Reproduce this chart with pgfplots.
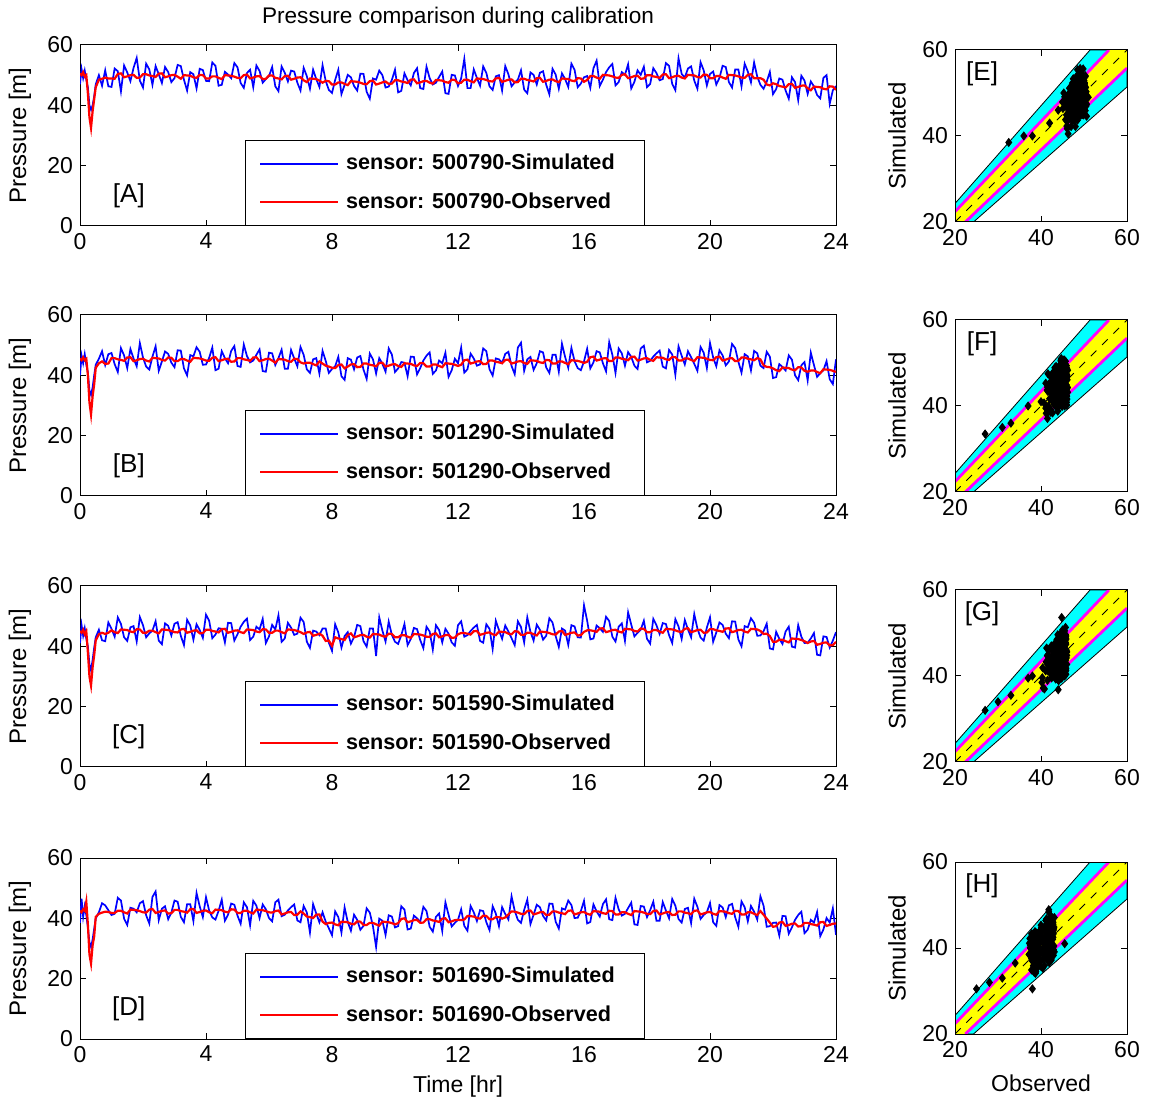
\documentclass[border=0pt]{standalone}
\usepackage{fontspec}
\setmainfont{Liberation Sans}
\usepackage{pgfplots}
\usepackage{pgfplotstable}
\pgfplotsset{compat=1.18}

\definecolor{mcyan}{rgb}{0,1,1}
\definecolor{myellow}{rgb}{1,1,0}
\definecolor{mmagenta}{rgb}{1,0,1}

% time [hr], simulated / observed pressure [m] for the four sensors
\pgfplotstableread{
t sA oA sB oB sC oC sD oD
0 47.0 50.5 40.0 45.5 41.0 45.0 38.5 42.5
0.05 52.0 50.0 46.5 45.0 47.0 44.5 46.5 42.0
0.1 49.0 51.0 44.0 46.0 43.5 45.5 40.5 43.0
0.15 51.5 49.5 47.0 45.0 46.0 44.0 44.0 42.5
0.2 48.5 50.0 43.5 45.5 42.5 45.0 41.0 45.5
0.25 46.0 44.0 41.0 40.0 40.0 38.0 37.0 38.0
0.3 40.0 36.0 35.0 31.0 34.0 30.0 32.0 28.0
0.35 38.5 32.5 33.5 27.0 32.0 27.0 30.5 25.0
0.4 40.0 38.0 36.0 33.0 35.5 33.0 33.0 31.0
0.45 43.0 42.0 40.0 37.0 39.5 37.0 36.5 34.0
0.5 47.0 46.0 43.5 42.5 43.0 42.0 40.0 40.5
0.6 50.0 48.5 45.5 44.0 45.5 44.0 42.0 41.5
0.7 46.5 48.8 48.0 44.6 42.0 44.5 45.0 41.9
0.8 51.6 49.2 43.4 43.8 41.7 44.1 44.3 42.2
0.9 46.3 48.9 47.0 43.9 47.9 44.5 42.7 42.1
1.0 46.1 48.9 47.4 45.7 45.8 45.3 41.1 41.8
1.1 52.2 48.8 43.7 45.7 43.2 44.7 41.5 41.8
1.2 51.3 50.4 41.1 45.3 49.6 44.4 46.8 42.5
1.3 44.6 50.6 49.0 45.1 47.4 45.6 45.9 42.5
1.4 53.2 49.3 46.6 44.8 43.0 45.5 39.9 42.0
1.5 50.9 49.6 42.4 45.9 41.8 45.4 37.8 41.6
1.6 48.0 50.0 48.7 46.0 46.3 44.9 43.5 42.9
1.7 52.4 50.1 45.6 44.7 46.7 44.7 43.2 42.8
1.8 55.7 49.1 43.0 45.0 41.6 45.7 42.0 42.7
1.9 48.2 49.2 50.7 45.4 49.7 45.6 45.0 42.4
2.0 45.9 50.3 45.9 45.5 47.0 44.5 45.7 42.0
2.1 53.8 50.3 42.9 44.9 43.0 44.5 41.0 41.9
2.2 51.9 49.9 41.9 44.6 44.3 45.2 38.3 42.9
2.3 46.8 49.7 46.2 45.8 45.2 45.2 47.1 43.1
2.4 53.0 49.4 49.6 45.7 48.3 44.7 48.9 41.8
2.5 50.3 50.5 41.5 45.6 41.9 44.3 39.4 42.1
2.6 47.4 50.6 44.6 45.1 40.7 45.6 43.2 42.5
2.7 52.7 49.3 47.9 44.9 47.6 45.5 44.0 42.6
2.8 51.0 49.6 47.1 45.9 46.8 45.4 39.7 41.6
2.9 47.7 50.0 44.2 45.8 43.6 45.1 41.9 41.7
3.0 49.0 50.1 42.7 44.7 47.5 44.7 45.9 42.8
3.1 53.4 49.5 48.3 44.7 48.0 44.6 45.5 42.8
3.2 53.0 48.8 48.2 45.4 43.5 45.6 40.5 42.4
3.3 48.5 50.0 42.3 45.4 40.4 45.8 38.7 42.2
3.4 44.9 49.9 40.0 44.9 48.8 44.5 44.7 41.9
3.5 51.0 49.8 46.7 44.5 46.9 44.8 44.7 43.0
3.6 50.3 49.3 46.3 45.8 42.2 45.2 39.1 43.1
3.7 45.6 49.1 49.3 45.7 47.3 45.3 48.4 41.8
3.8 52.1 50.1 47.8 45.6 45.4 44.3 44.0 42.1
3.9 51.7 50.0 43.5 45.3 42.8 44.4 40.4 42.5
4.0 48.1 48.9 43.6 44.9 50.5 45.5 47.0 42.6
4.1 48.0 48.9 45.8 44.8 48.5 45.5 42.6 42.0
4.2 54.2 49.6 49.2 45.8 42.7 45.1 40.3 41.7
4.3 53.1 49.6 41.7 46.0 43.9 44.9 39.6 42.9
4.4 46.5 49.1 42.2 44.7 46.0 44.6 42.5 42.8
4.5 46.8 48.7 48.0 45.0 45.8 45.7 46.2 42.7
4.6 51.1 50.0 45.7 45.4 41.3 45.8 39.2 42.2
4.7 50.2 49.9 44.0 45.5 47.8 44.5 41.2 42.0
4.8 49.0 49.8 48.1 44.5 47.7 44.8 44.9 43.0
4.9 54.0 49.5 49.7 44.6 41.9 45.2 44.5 42.9
5.0 52.6 49.1 43.1 45.7 44.0 45.3 40.9 41.8
5.1 47.4 49.0 42.8 45.7 46.5 44.7 38.2 41.8
5.2 45.8 50.0 50.2 45.3 48.1 44.4 45.3 42.5
5.3 50.7 50.2 46.4 45.1 49.2 45.6 43.7 42.5
5.4 51.8 48.9 44.3 44.8 42.1 45.5 37.7 42.0
5.5 46.0 49.2 44.9 45.9 43.2 45.4 45.8 41.6
5.6 53.2 49.6 46.8 46.0 46.5 44.9 44.2 42.9
5.7 51.4 49.7 48.6 44.7 45.6 44.7 40.1 42.8
5.8 47.5 48.7 41.4 45.0 49.1 45.7 44.6 42.7
5.9 48.7 48.8 41.2 45.4 41.1 45.6 43.0 42.4
6.0 49.7 49.9 47.5 45.5 43.3 44.5 40.1 42.0
6.1 52.7 49.9 47.3 44.9 47.1 44.5 39.0 41.9
6.2 46.3 49.1 43.4 44.2 45.6 45.2 45.3 42.4
6.3 44.7 48.9 45.7 45.4 50.3 45.2 46.2 42.6
6.4 52.9 48.6 48.5 45.3 41.5 44.7 40.7 41.3
6.5 50.8 49.7 42.2 45.2 42.6 44.3 41.2 41.6
6.6 47.9 49.8 42.2 44.7 47.8 45.6 42.6 42.0
6.7 51.5 48.5 48.4 44.5 46.2 45.5 43.7 42.1
6.8 51.2 48.8 45.6 45.5 43.8 45.4 44.6 41.1
6.9 47.5 49.2 43.0 45.4 44.2 45.1 39.3 41.2
7.0 44.9 49.3 49.4 44.3 49.5 44.7 38.7 42.3
7.1 52.4 48.3 46.8 43.9 48.1 44.1 44.1 41.6
7.2 49.7 47.7 42.0 44.2 41.6 44.6 42.0 40.6
7.3 45.5 48.9 40.8 44.2 39.5 44.8 35.3 40.4
7.4 51.8 48.8 45.3 43.7 45.2 43.5 44.7 40.1
7.5 48.7 48.7 45.7 43.3 44.9 43.8 41.6 41.2
7.6 46.1 48.2 40.6 44.6 43.7 44.2 38.7 41.3
7.7 53.3 47.5 48.1 43.9 45.9 43.5 42.0 38.9
7.8 48.1 48.1 44.8 43.2 45.9 41.8 38.9 38.1
7.9 45.1 48.0 40.8 42.9 41.2 41.9 36.7 38.5
8.0 44.1 46.9 42.1 42.5 38.5 40.2 34.4 38.6
8.1 48.4 46.9 43.0 42.4 47.3 43.0 42.3 38.0
8.2 51.8 47.6 46.1 43.4 44.6 42.6 40.4 37.7
8.3 43.7 47.6 39.7 43.6 39.6 42.4 35.3 38.9
8.4 46.8 47.1 38.5 42.3 43.4 42.1 43.6 38.8
8.5 50.1 46.7 45.7 42.9 44.7 43.7 38.8 38.7
8.6 49.3 48.0 45.2 43.6 40.9 44.3 35.9 38.2
8.7 46.4 47.9 42.0 43.7 43.1 43.0 41.2 38.0
8.8 44.9 47.8 45.9 42.7 47.1 43.3 39.5 39.0
8.9 50.5 47.5 46.4 42.8 46.7 43.7 36.2 38.9
9.0 50.4 47.1 41.9 43.9 41.7 43.8 37.5 37.8
9.1 44.5 47.0 38.8 43.9 39.9 43.2 43.3 37.8
9.2 42.2 48.0 47.2 43.5 45.9 42.9 41.9 38.5
9.3 48.9 48.2 45.3 43.3 45.9 44.1 37.4 38.5
9.4 48.5 46.9 40.6 43.0 36.8 44.0 30.5 38.0
9.5 51.5 47.2 45.7 44.1 49.6 43.9 39.9 37.6
9.6 50.0 47.6 43.8 44.2 45.2 43.4 39.2 38.9
9.7 45.9 47.9 41.2 42.9 41.6 43.2 34.5 38.8
9.8 46.2 47.1 48.9 43.2 48.2 44.2 41.0 38.7
9.9 48.4 47.2 46.9 43.6 43.8 44.1 40.6 38.4
10.0 51.8 48.3 41.1 43.7 41.5 43.0 37.0 38.0
10.1 44.3 48.3 42.3 43.1 40.8 43.0 37.4 38.4
10.2 44.8 47.9 44.4 42.8 43.7 43.7 44.0 39.8
10.3 50.6 47.7 44.2 44.0 47.4 43.7 42.9 40.0
10.4 48.3 47.4 39.7 43.9 40.4 43.2 36.3 38.7
10.5 46.6 48.5 46.2 43.8 42.4 42.8 36.6 39.0
10.6 50.7 48.6 46.1 43.3 46.1 44.1 40.9 39.4
10.7 52.3 47.3 40.3 43.1 45.7 44.0 40.0 39.5
10.8 45.7 47.6 42.4 44.1 42.1 43.9 38.8 38.5
10.9 45.4 48.0 44.9 44.0 39.4 43.6 43.8 38.6
11.0 52.8 48.1 46.5 42.9 46.5 43.2 42.4 39.7
11.1 49.0 47.5 47.6 42.9 44.9 43.1 37.2 39.7
11.2 46.9 47.2 40.5 43.6 38.9 44.1 35.6 39.3
11.3 47.5 48.4 41.6 43.6 47.0 44.3 40.5 39.1
11.4 49.4 48.3 44.9 43.1 45.4 43.0 41.6 38.8
11.5 51.2 48.2 44.0 42.7 41.3 43.3 35.8 39.9
11.6 44.0 47.7 47.5 44.0 45.8 43.7 45.3 40.0
11.7 43.8 47.5 39.5 43.9 44.2 43.8 41.2 38.7
11.8 50.1 48.5 41.7 43.8 41.3 42.8 37.3 39.0
11.9 49.9 48.4 45.5 43.5 40.2 42.9 38.5 39.4
12.0 46.4 47.3 44.0 43.1 47.0 44.0 39.5 39.5
12.1 48.9 47.5 49.2 43.5 48.3 44.4 43.0 39.4
12.2 55.4 48.5 40.9 45.0 43.2 44.4 37.5 39.6
12.3 45.7 48.5 42.0 45.2 43.7 44.2 35.9 40.8
12.4 45.7 48.0 47.2 43.9 45.1 43.9 44.1 40.7
12.5 51.9 47.6 45.6 44.2 46.2 45.0 42.0 40.6
12.6 49.1 48.9 43.2 44.6 47.1 45.1 39.1 40.1
12.7 46.5 48.8 43.6 44.7 41.8 43.8 42.7 39.9
12.8 52.9 48.7 48.9 43.7 41.2 44.1 42.4 40.9
12.9 50.7 48.4 48.0 43.8 47.3 44.5 38.7 40.8
13.0 46.3 48.0 42.0 44.9 45.8 44.6 36.1 39.7
13.1 45.1 47.9 39.9 44.9 39.1 44.0 44.0 39.7
13.2 49.6 48.9 45.6 44.5 48.5 43.7 41.6 40.4
13.3 50.0 49.1 45.3 44.3 45.4 44.9 37.4 40.4
13.4 44.9 47.8 44.1 44.0 42.5 44.8 43.7 39.9
13.5 53.0 48.1 47.1 45.1 46.9 44.7 41.4 40.3
13.6 50.3 48.5 47.8 45.2 44.9 44.2 39.6 41.3
13.7 46.3 48.6 43.1 43.9 42.7 44.0 47.3 42.3
13.8 47.6 47.6 40.4 44.2 40.4 45.0 42.5 42.2
13.9 48.5 47.7 49.2 44.6 48.3 44.9 39.5 41.9
14.0 51.6 48.8 50.8 44.7 46.4 43.8 38.5 41.5
14.1 45.2 48.8 41.5 44.1 41.3 43.8 42.8 41.4
14.2 44.0 48.4 45.3 43.8 49.6 44.5 46.2 42.4
14.3 50.9 48.2 46.1 45.0 44.8 44.5 38.1 42.6
14.4 50.1 47.9 41.8 44.9 41.9 44.0 41.2 41.3
14.5 46.9 49.0 44.0 44.8 47.2 43.6 44.5 41.6
14.6 50.8 49.1 48.0 44.3 45.5 44.9 43.7 42.0
14.7 51.3 47.8 47.6 44.1 42.2 44.8 40.8 42.1
14.8 46.8 48.1 42.6 45.1 43.5 44.7 39.3 41.1
14.9 43.7 48.5 40.8 45.0 49.3 44.4 44.9 41.2
15.0 52.1 48.6 46.8 43.9 47.9 44.0 44.8 42.3
15.1 50.2 48.0 46.8 43.9 43.4 43.9 38.9 42.3
15.2 45.5 47.7 41.2 44.6 39.8 44.9 36.6 41.9
15.3 50.6 48.9 50.5 44.6 45.9 45.1 43.3 41.7
15.4 48.7 48.8 46.1 44.1 45.2 43.8 42.9 41.4
15.5 46.1 48.7 42.5 43.7 40.5 44.1 45.9 42.5
15.6 53.8 48.2 49.1 45.0 47.0 44.5 44.4 42.6
15.7 51.8 48.0 44.7 44.9 46.6 44.6 40.1 41.3
15.8 46.0 49.0 42.4 44.8 43.0 43.6 40.2 41.6
15.9 47.2 48.9 41.7 44.5 42.9 43.7 42.4 42.0
16.0 49.3 47.8 44.6 44.1 53.6 44.8 45.8 42.1
16.1 49.7 48.4 48.8 44.5 48.5 45.3 38.3 41.5
16.2 45.8 49.7 42.3 46.0 42.3 45.3 38.8 41.2
16.3 52.3 49.7 44.3 46.2 42.6 45.1 44.6 42.4
16.4 54.8 49.2 48.0 44.9 46.9 44.8 42.3 42.3
16.5 46.4 48.8 47.6 45.2 46.0 45.9 40.6 42.2
16.6 48.5 50.1 44.0 45.6 44.8 46.0 44.7 41.7
16.7 51.0 50.0 41.3 45.7 49.8 44.7 46.3 41.5
16.8 52.6 49.9 51.0 44.7 48.4 45.0 39.7 42.5
16.9 53.7 49.6 46.8 44.8 43.2 45.4 39.4 42.4
17.0 46.6 49.2 40.8 45.9 41.6 45.5 46.8 41.3
17.1 47.7 49.1 48.9 45.9 46.5 44.9 43.0 41.3
17.2 51.0 50.1 47.3 45.5 47.6 44.6 40.9 42.0
17.3 50.1 50.3 43.2 45.3 41.8 45.8 41.5 42.0
17.4 53.6 49.0 47.7 45.0 51.3 45.7 43.4 41.5
17.5 45.6 49.3 46.1 46.1 47.2 45.6 45.2 41.1
17.6 47.8 49.7 43.2 46.2 43.3 45.1 38.0 42.4
17.7 51.6 49.8 42.1 44.9 44.5 44.9 37.8 42.3
17.8 50.1 48.8 48.9 45.2 45.5 45.9 44.1 42.2
17.9 52.8 48.9 49.8 45.6 48.5 45.8 43.9 41.9
18.0 46.0 50.0 44.3 45.7 42.5 44.7 40.4 41.5
18.1 47.1 50.0 44.8 45.1 40.9 44.7 42.7 41.4
18.2 52.3 49.6 46.2 44.8 49.1 45.4 45.5 42.4
18.3 50.7 49.4 47.3 46.0 47.0 45.4 39.2 42.6
18.4 48.3 49.1 48.2 45.9 44.1 44.9 39.2 41.3
18.5 48.7 50.2 42.9 45.8 47.7 44.5 45.4 41.6
18.6 54.0 50.3 42.3 45.3 47.4 45.8 42.6 42.0
18.7 53.1 49.0 48.4 45.1 43.7 45.7 40.0 42.1
18.8 47.1 49.3 46.9 46.1 41.1 45.6 46.4 41.1
18.9 45.0 49.7 40.2 46.0 49.0 45.3 44.2 41.2
19.0 55.6 49.8 49.6 44.9 46.6 44.9 39.8 42.3
19.1 50.4 49.2 46.5 44.9 42.4 44.8 38.6 42.3
19.2 49.2 48.9 43.6 45.6 48.7 45.8 43.1 41.9
19.3 52.2 50.1 48.0 45.6 45.6 46.0 43.5 41.7
19.4 52.9 50.0 46.0 45.1 43.0 44.7 38.4 41.4
19.5 48.2 49.9 43.8 44.7 50.7 45.0 46.5 42.5
19.6 45.5 49.4 41.5 46.0 45.9 45.4 43.8 42.6
19.7 54.3 49.2 49.4 45.9 42.9 45.5 39.8 41.3
19.8 51.6 50.2 47.5 45.8 41.9 44.5 41.1 41.6
19.9 46.6 50.1 42.4 45.5 46.2 44.6 42.0 42.0
20.0 50.4 49.0 50.7 45.1 49.6 45.7 45.1 42.1
20.1 51.2 49.0 45.9 45.0 41.5 45.7 38.7 41.5
20.2 46.9 49.7 43.0 46.0 44.6 45.3 37.5 41.2
20.3 49.1 49.7 48.3 46.2 47.9 45.1 44.4 42.4
20.4 53.1 49.2 46.6 44.9 47.1 44.8 43.6 42.3
20.5 52.7 48.8 43.3 45.2 44.2 45.9 40.4 42.2
20.6 47.7 50.1 44.6 45.6 42.7 46.0 44.3 41.7
20.7 45.9 50.0 50.4 45.7 48.3 44.7 44.8 41.5
20.8 51.9 49.9 49.0 44.7 48.2 45.0 40.3 42.5
20.9 51.9 49.6 44.5 44.8 42.3 45.4 37.2 42.4
21.0 46.3 49.2 40.9 45.9 40.0 45.5 45.6 41.3
21.1 53.8 49.1 47.0 45.9 46.7 44.9 43.7 41.3
21.2 51.2 50.1 46.3 45.5 46.3 44.6 39.0 42.0
21.3 47.6 50.3 41.6 45.3 49.3 45.8 44.1 42.0
21.4 54.2 49.0 48.1 45.0 47.8 45.7 42.2 41.5
21.5 49.5 49.0 47.3 45.7 43.5 45.6 39.6 41.1
21.6 46.8 49.0 43.2 45.3 43.6 45.1 47.3 42.4
21.7 45.5 48.5 42.4 43.3 45.0 44.1 44.2 41.2
21.8 47.8 46.9 47.8 42.8 47.5 44.2 37.2 39.9
21.9 51.1 46.6 46.2 42.7 39.3 43.4 37.4 38.6
22.0 43.7 47.3 39.1 42.3 39.0 41.5 38.5 37.2
22.1 45.4 47.0 39.4 41.7 44.8 41.5 38.6 37.4
22.2 48.9 46.4 43.7 41.4 42.5 42.2 34.3 38.6
22.3 48.5 46.2 42.8 42.6 40.8 42.2 40.8 38.8
22.4 44.9 45.9 41.6 42.5 44.9 41.7 40.7 37.5
22.5 42.2 47.0 46.6 42.4 46.5 41.3 34.9 37.8
22.6 49.3 47.1 45.2 41.9 39.9 42.6 37.0 38.2
22.7 47.7 45.8 40.0 41.7 39.6 42.5 39.5 38.3
22.8 41.7 46.1 38.4 42.7 47.0 42.4 41.1 37.3
22.9 49.8 46.5 43.3 42.6 43.2 42.1 42.2 37.4
23.0 48.2 46.6 44.4 41.5 41.1 41.7 35.1 38.5
23.1 43.8 45.7 38.3 41.2 41.2 41.1 36.2 38.5
23.2 47.9 45.0 47.5 41.6 42.6 41.6 39.5 38.1
23.3 46.3 46.2 43.4 41.6 44.4 41.8 38.6 37.9
23.4 43.4 46.1 39.5 41.1 37.2 40.5 42.1 37.6
23.5 42.3 46.0 40.7 40.7 37.0 40.8 34.1 38.7
23.6 49.1 45.5 41.7 42.0 43.3 41.2 36.3 38.8
23.7 50.0 45.3 44.7 41.9 43.1 41.3 40.1 37.5
23.8 40.5 46.3 38.7 41.8 39.6 40.3 38.6 37.8
23.9 45.0 46.2 37.1 41.5 41.9 40.4 43.3 38.2
24.0 46.4 45.1 45.3 41.1 44.7 41.5 34.5 38.3
}\pdata

\pgfplotsset{
  common/.style={
    scale only axis, anchor=south west,
    tick align=inside, major tick length=3pt,
    axis line style={black, line width=0.5pt},
    every tick/.style={black, line width=0.5pt},
    tick label style={font=\fontsize{11.5}{13}\selectfont},
    /pgf/number format/assume math mode=true,
  },
  tsaxis/.style={
    common, width=378pt, height=90.5pt,
    xmin=0, xmax=24, ymin=0, ymax=60,
    xtick={0,4,...,24}, ytick={0,20,40,60},
    ylabel={Pressure [m]},
    every axis y label/.style={at={(axis description cs:-0.0794,0.5)},
      rotate=90, anchor=center, font=\fontsize{12}{14}\selectfont},
    every axis x label/.style={at={(axis description cs:0.5,0)},
      anchor=center, yshift=-24pt, font=\fontsize{11.5}{14}\selectfont},
    every axis title/.style={at={(axis description cs:0.5,1)},
      anchor=center, yshift=13.5pt, font=\fontsize{11.3}{13}\selectfont},
    legend style={at={(axis description cs:0.218,0)}, anchor=south west,
      draw=black, fill=white,
      font=\bfseries\fontsize{10.8}{12}\selectfont,
      inner xsep=7pt, inner ysep=5pt, row sep=6pt,
      /tikz/every odd column/.append style={column sep=1.5pt}},
    legend cell align=left,
    legend image code/.code={\draw[#1, line width=1pt] (0pt,0pt) -- (39pt,0pt);},
  },
  scaxis/.style={
    common, width=86pt, height=86pt, axis on top,
    xmin=20, xmax=60, ymin=20, ymax=60,
    xtick={20,40,60}, ytick={20,40,60},
    ylabel={Simulated},
    every axis y label/.style={at={(axis description cs:-0.337,0.5)},
      rotate=90, anchor=center, font=\fontsize{12}{14}\selectfont},
    every axis x label/.style={at={(axis description cs:0.5,0)},
      anchor=center, yshift=-24.5pt, font=\fontsize{11.5}{14}\selectfont},
  },
  sim/.style={blue, line width=0.85pt},
  obs/.style={red, line width=1.1pt},
  pts/.style={only marks, mark=diamond*, mark size=2pt, black},
}

% confidence bands around the 1:1 line
\newcommand{\bands}{%
  \addplot[fill=mcyan, draw=black, line width=0.4pt]
    coordinates {(20,24.3) (51.4,60) (60,60) (60,51.4) (24.3,20) (20,20)} -- cycle;
  \addplot[fill=myellow, draw=none]
    coordinates {(20,22.4) (55.8,60) (60,60) (60,55.8) (22.4,20) (20,20)} -- cycle;
  \addplot[mmagenta, line width=1.4pt] coordinates {(20,22.4) (55.8,60)};
  \addplot[mmagenta, line width=1.4pt] coordinates {(22.4,20) (60,55.8)};
  \addplot[black, line width=0.4pt, dash pattern=on 4pt off 4pt]
    coordinates {(20,20) (60,60)};
}

\newcommand{\plab}{\fontsize{13}{15}\selectfont}
\newcommand{\lent}[1]{\makebox[140pt][l]{#1}}

\begin{document}
\begin{tikzpicture}
\useasboundingbox (0,0) rectangle (575pt,551.5pt);

% ---- time series ----
\begin{axis}[tsaxis, at={(40pt,438.5pt)},
  title={Pressure comparison during calibration}]
\addplot[sim] table[x=t, y=sA] {\pdata};
\addlegendentry{\lent{sensor: 500790-Simulated}}
\addplot[obs] table[x=t, y=oA] {\pdata};
\addlegendentry{\lent{sensor: 500790-Observed}}
\node[font=\plab] at (axis cs:1.55,10) {[A]};
\end{axis}

\begin{axis}[tsaxis, at={(40pt,303.5pt)}]
\addplot[sim] table[x=t, y=sB] {\pdata};
\addlegendentry{\lent{sensor: 501290-Simulated}}
\addplot[obs] table[x=t, y=oB] {\pdata};
\addlegendentry{\lent{sensor: 501290-Observed}}
\node[font=\plab] at (axis cs:1.55,10) {[B]};
\end{axis}

\begin{axis}[tsaxis, at={(40pt,168pt)}]
\addplot[sim] table[x=t, y=sC] {\pdata};
\addlegendentry{\lent{sensor: 501590-Simulated}}
\addplot[obs] table[x=t, y=oC] {\pdata};
\addlegendentry{\lent{sensor: 501590-Observed}}
\node[font=\plab] at (axis cs:1.55,10) {[C]};
\end{axis}

\begin{axis}[tsaxis, at={(40pt,32pt)}, xlabel={Time [hr]}]
\addplot[sim] table[x=t, y=sD] {\pdata};
\addlegendentry{\lent{sensor: 501690-Simulated}}
\addplot[obs] table[x=t, y=oD] {\pdata};
\addlegendentry{\lent{sensor: 501690-Observed}}
\node[font=\plab] at (axis cs:1.55,10) {[D]};
\end{axis}

% ---- scatter: observed vs simulated ----
\begin{axis}[scaxis, at={(477.5pt,440.5pt)}]
\bands
\addplot[pts] table[x=oA, y=sA] {\pdata};
\node[font=\plab] at (axis cs:26.3,54.5) {[E]};
\end{axis}

\begin{axis}[scaxis, at={(477.5pt,305.5pt)}]
\bands
\addplot[pts] table[x=oB, y=sB] {\pdata};
\node[font=\plab] at (axis cs:26.3,54.5) {[F]};
\end{axis}

\begin{axis}[scaxis, at={(477.5pt,170.5pt)}]
\bands
\addplot[pts] table[x=oC, y=sC] {\pdata};
\node[font=\plab] at (axis cs:26.3,54.5) {[G]};
\end{axis}

\begin{axis}[scaxis, at={(477.5pt,34.5pt)}, xlabel={Observed}]
\bands
\addplot[pts] table[x=oD, y=sD] {\pdata};
\node[font=\plab] at (axis cs:26.3,54.5) {[H]};
\end{axis}

\end{tikzpicture}
\end{document}
